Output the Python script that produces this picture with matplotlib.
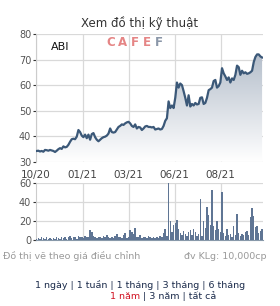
import matplotlib.pyplot as plt
import numpy as np

# closing price, roughly one value every ~1.7 px of the chart
price = [34.2, 34.3, 34.0, 34.2, 33.9, 34.6, 34.5, 34.3, 34.6, 34.4, 34.2, 33.8,
         34.3, 34.9, 35.3, 35.0, 36.0, 35.6, 35.8, 36.6, 37.8, 38.8, 39.0, 38.8,
         39.8, 42.4, 41.6, 40.2, 39.6, 40.6, 39.2, 40.6, 38.6, 40.8, 41.2, 39.6,
         38.6, 38.0, 38.6, 39.2, 39.6, 39.8, 40.2, 41.0, 43.0, 41.6, 41.4, 41.6,
         42.6, 43.6, 44.0, 44.6, 44.4, 45.0, 45.4, 45.6, 45.0, 44.0, 43.6, 44.6,
         43.0, 43.6, 43.4, 42.4, 43.0, 43.8, 44.0, 43.6, 43.6, 43.4, 43.6, 42.6,
         42.8, 43.0, 42.6, 42.8, 44.0, 46.0, 47.0, 53.6, 51.0, 52.0, 51.0, 55.0,
         61.0, 59.0, 60.6, 60.0, 57.6, 55.0, 52.0, 56.0, 51.6, 52.6, 52.0, 53.0,
         52.4, 52.6, 55.0, 55.2, 52.6, 53.0, 55.0, 58.0, 58.4, 59.0, 61.6, 62.0,
         59.0, 59.6, 61.0, 66.6, 64.6, 63.4, 62.0, 63.0, 61.0, 62.6, 62.0, 64.0,
         67.6, 67.0, 64.0, 65.6, 64.6, 65.0, 64.4, 64.6, 65.0, 65.6, 69.0, 71.0,
         72.0, 72.0, 71.2, 70.8]

# volume in units of 10,000 shares
volume = [1, 2, 1, 3, 2, 1, 3, 1, 2, 1, 2, 1, 4, 2, 1, 3, 2, 4, 1, 3, 5, 2, 4, 3,
          1, 5, 4, 3, 2, 5, 3, 4, 11, 9, 5, 3, 2, 4, 3, 2, 5, 3, 6, 4, 2, 3, 2, 5,
          7, 3, 4, 2, 6, 8, 2, 3, 11, 9, 7, 13, 4, 3, 6, 2, 4, 3, 2, 5, 3, 2, 3, 2,
          4, 2, 5, 3, 8, 12, 5, 60, 20, 9, 16, 18, 21, 12, 8, 6, 10, 7, 5, 9, 11, 6,
          12, 9, 5, 7, 43, 5, 20, 13, 35, 27, 16, 53, 15, 11, 20, 12, 9, 51, 8, 5,
          12, 6, 7, 4, 15, 6, 28, 8, 5, 7, 6, 9, 10, 6, 25, 34, 26, 14, 15, 8, 10, 12]

tick_pos = [-0.4, 27.6, 55.0, 82.6, 110.2]
tick_labels = ["10/20", "01/21", "03/21", "06/21", "08/21"]

line_color = "#3b5878"
bar_color = "#5f7594"
grid_color = "#d9d9d9"
label_color = "#555555"
small = 6.8

fig = plt.figure(figsize=(2.8, 3.06), dpi=100)
x = np.arange(len(price))
x_lim = (-0.4, len(price) - 0.4)

# price panel
ax = fig.add_axes([0.1286, 0.4716, 0.811, 0.4174])
ax.set_xlim(*x_lim)
ax.set_ylim(30, 80)
fill = ax.fill_between(x, price, 30, color="none")
grad = np.linspace(1, 0, 256).reshape(-1, 1)
cmap = plt.matplotlib.colors.LinearSegmentedColormap.from_list(
    "g", ["#ffffff", "#b3bdca"])
img = ax.imshow(grad, extent=[x_lim[0], x_lim[1], 30, 73], aspect="auto",
                cmap=cmap, zorder=1)
img.set_clip_path(fill.get_paths()[0], transform=ax.transData)
ax.plot(x, price, color=line_color, lw=1.6, zorder=3)
ax.set_yticks([30, 40, 50, 60, 70, 80])
ax.set_xticks(tick_pos)
ax.set_xticklabels(tick_labels)
ax.grid(True, color=grid_color, lw=0.9, zorder=0)
ax.set_axisbelow(True)
for s in ["top", "right", "bottom"]:
    ax.spines[s].set_visible(False)
ax.spines["left"].set_color("#cccccc")
ax.tick_params(axis="y", length=2.5, width=0.8, color="#333333", labelsize=7,
               labelcolor=label_color, pad=1)
ax.tick_params(axis="x", length=0, labelsize=7.5, labelcolor="#444444", pad=6)
ax.text(0.066, 0.9, "ABI", transform=ax.transAxes, fontsize=8, color="#111111",
        va="center")
# logo letters spread out to mimic the wide CAFEF mark
for i, ch in enumerate("CAFEF"):
    ax.text(0.33 + 0.053 * i, 0.937, ch, transform=ax.transAxes, fontsize=8.5,
            color="#e58585" if i < 4 else "#8a96a8", fontweight="bold",
            ha="center", va="center")

# volume panel
axv = fig.add_axes([0.1286, 0.2147, 0.811, 0.1863])
axv.set_xlim(*x_lim)
axv.set_ylim(0, 60)
axv.bar(x, volume, width=0.9, color=bar_color, zorder=3)
axv.set_yticks([0, 20, 40, 60])
axv.set_xticks(tick_pos[1:])
axv.set_xticklabels([])
axv.grid(True, color=grid_color, lw=0.9, zorder=0)
for s in ["top", "right"]:
    axv.spines[s].set_visible(False)
axv.spines["left"].set_color("#cccccc")
axv.spines["bottom"].set_color("#8899aa")
axv.tick_params(axis="y", length=2.5, width=0.8, color="#333333", labelsize=7,
                labelcolor=label_color, pad=1)
axv.tick_params(axis="x", length=0)

# texts
fig.text(0.5, 0.925, "Xem đồ thị kỹ thuật", ha="center", va="center",
         fontsize=8.5, color="#333333")
fig.text(0.01, 0.153, "Đồ thị vẽ theo giá điều chỉnh", fontsize=small,
         color="#999999")
fig.text(0.95, 0.153, "đv KLg: 10,000cp", ha="right", fontsize=small,
         color="#999999")
fig.text(0.5, 0.058, "1 ngày | 1 tuần | 1 tháng | 3 tháng | 6 tháng", ha="center",
         fontsize=small, color="#1a2a4a")
fig.text(0.5, 0.022, "1 năm", ha="right", fontsize=small, color="#d01020")
fig.text(0.5, 0.022, " | 3 năm | tất cả", ha="left", fontsize=small,
         color="#1a2a4a")

fig.savefig("out.png", dpi=100)
